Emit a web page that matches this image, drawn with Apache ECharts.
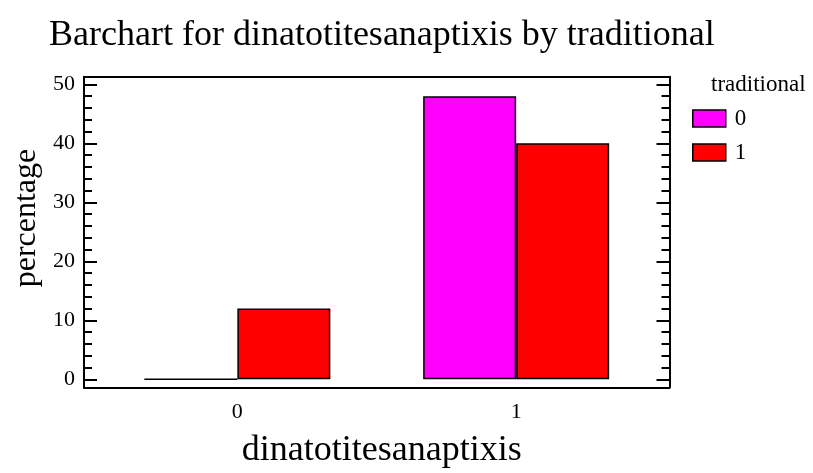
<!DOCTYPE html>
<html>
<head>
<meta charset="utf-8">
<title>Barchart for dinatotitesanaptixis by traditional</title>
<script src="https://cdn.jsdelivr.net/npm/echarts@6/dist/echarts.min.js"></script>
<style>
  html, body { margin: 0; padding: 0; background: #ffffff; }
  #chart { width: 813px; height: 473px; }
</style>
</head>
<body>
<div id="chart"></div>
<script>
// Categories of dinatotitesanaptixis along the horizontal axis
const categories = ['0', '1'];
// Groups of "traditional" (legend entries)
const groups = ['0', '1'];
// Percentage of all observations in each cell
const traditional0 = [0, 48];
const traditional1 = [12, 40];
// Vertical axis ticks
const yMajorTicks = [0, 10, 20, 30, 40, 50];
const yMinorTicks = [2, 4, 6, 8, 12, 14, 16, 18, 22, 24, 26, 28, 32, 34, 36, 38, 42, 44, 46, 48];

const FONT = '"Liberation Serif", "Times New Roman", serif';
const yMin = -1.36, yMax = 51.3;
const xMin = -0.55, xMax = 1.55;

const chart = echarts.init(document.getElementById('chart'), null, { renderer: 'canvas' });

function toPoints(values) {
  return values.map((v, i) => [i, v]);
}

function yAxisDef(position, ticks, tickLen, showLine, showLabels, extra) {
  return Object.assign({
    type: 'value',
    position: position,
    min: yMin,
    max: yMax,
    axisLine: { show: showLine, onZero: false, lineStyle: { color: '#000', width: 2 } },
    axisTick: { show: true, inside: true, length: tickLen, customValues: ticks,
                lineStyle: { color: '#000', width: 2 } },
    axisLabel: showLabels
      ? { show: true, customValues: ticks, margin: 9, color: '#000',
          fontFamily: FONT, fontSize: 22 }
      : { show: false },
    splitLine: { show: false }
  }, extra || {});
}

const option = {
  backgroundColor: '#ffffff',
  animation: false,
  title: [
    {
      text: 'Barchart for dinatotitesanaptixis by traditional',
      left: 49, top: 18, padding: 0,
      textStyle: { fontFamily: FONT, fontSize: 36, fontWeight: 'normal', color: '#000' }
    },
    {
      text: 'traditional',
      left: 711, top: 73, padding: 0,
      textStyle: { fontFamily: FONT, fontSize: 23, fontWeight: 'normal', color: '#000' }
    }
  ],
  legend: {
    data: groups,
    orient: 'vertical',
    left: 692, top: 107,
    padding: 0,
    icon: 'rect',
    itemWidth: 33, itemHeight: 17, itemGap: 11,
    itemStyle: { borderColor: '#000', borderWidth: 1.5 },
    textStyle: { fontFamily: FONT, fontSize: 23, color: '#000', padding: [0, 0, 0, 4] }
  },
  grid: {
    left: 84, right: 143.5, top: 76.7, bottom: 85.7,
    containLabel: false, outerBoundsMode: 'none'
  },
  xAxis: [
    {
      type: 'value', position: 'bottom', min: xMin, max: xMax,
      axisLine: { show: true, onZero: false, lineStyle: { color: '#000', width: 2 } },
      axisTick: { show: false },
      axisLabel: { show: true, customValues: categories.map((c, i) => i),
                   formatter: v => categories[Math.round(v)],
                   margin: 14, color: '#000', fontFamily: FONT, fontSize: 22 },
      splitLine: { show: false },
      name: 'dinatotitesanaptixis', nameLocation: 'middle', nameGap: 45,
      nameTextStyle: { fontFamily: FONT, fontSize: 36, color: '#000', padding: [0, 0, 0, 10] }
    },
    {
      type: 'value', position: 'top', min: xMin, max: xMax,
      axisLine: { show: true, onZero: false, lineStyle: { color: '#000', width: 2 } },
      axisTick: { show: false }, axisLabel: { show: false }, splitLine: { show: false }
    }
  ],
  yAxis: [
    yAxisDef('left', yMajorTicks, 13, true, true, {
      name: 'percentage', nameLocation: 'middle', nameGap: 35,
      nameTextStyle: { fontFamily: FONT, fontSize: 32, color: '#000', padding: [0, 0, 0, 28] }
    }),
    yAxisDef('left', yMinorTicks, 8, false, false),
    yAxisDef('right', yMajorTicks, 13, true, false),
    yAxisDef('right', yMinorTicks, 8, false, false)
  ],
  series: [
    {
      name: groups[0], type: 'bar', xAxisIndex: 0, yAxisIndex: 0,
      data: toPoints(traditional0),
      barWidth: 93, barGap: '0%',
      itemStyle: { color: '#ff00ff', borderColor: '#000', borderWidth: 1.5 }
    },
    {
      name: groups[1], type: 'bar', xAxisIndex: 0, yAxisIndex: 0,
      data: toPoints(traditional1),
      barWidth: 93, barGap: '0%',
      itemStyle: { color: '#ff0000', borderColor: '#000', borderWidth: 1.5 }
    }
  ]
};

chart.setOption(option);
</script>
</body>
</html>
